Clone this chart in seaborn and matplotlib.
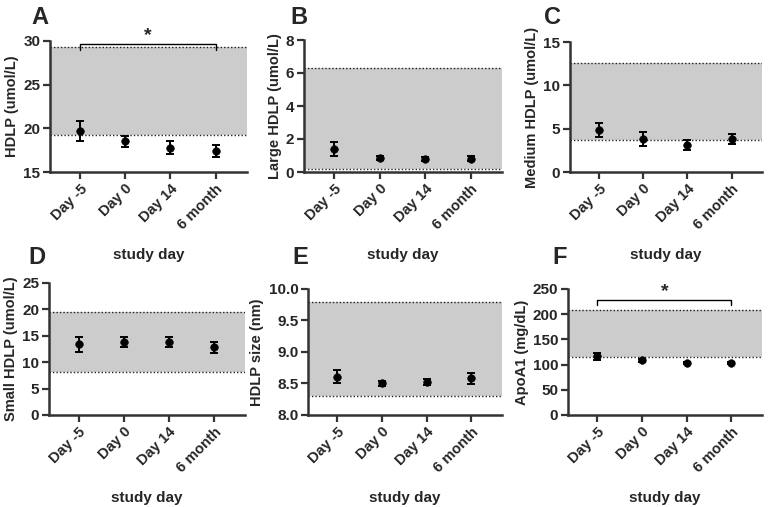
import numpy as np
import matplotlib
matplotlib.use("Agg")
import matplotlib.pyplot as plt
import seaborn as sns

days = ["Day -5", "Day 0", "Day 14", "6 month"]

# means and error bar half-widths
hdlp_mean = [19.7, 18.5, 17.8, 17.4]
hdlp_err = [1.1, 0.6, 0.7, 0.7]
large_mean = [1.4, 0.85, 0.8, 0.8]
large_err = [0.4, 0.15, 0.12, 0.15]
medium_mean = [4.8, 3.8, 3.1, 3.8]
medium_err = [0.8, 0.8, 0.6, 0.6]
small_mean = [13.4, 13.8, 13.8, 12.8]
small_err = [1.4, 1.0, 1.0, 1.0]
size_mean = [8.61, 8.50, 8.52, 8.58]
size_err = [0.10, 0.04, 0.05, 0.09]
apoa1_mean = [117, 109, 103, 103]
apoa1_err = [7, 3, 2, 2]

# reference ranges (shaded bands)
hdlp_band = (19.2, 29.3)
large_band = (0.2, 6.3)
medium_band = (3.7, 12.6)
small_band = (8.1, 19.6)
size_band = (8.3, 9.8)
apoa1_band = (115, 208)

panels = [
    ("A", "HDLP (umol/L)", hdlp_mean, hdlp_err, hdlp_band, (15, 30), [15, 20, 25, 30], "{:.0f}", (29.6, 29.0)),
    ("B", "Large HDLP (umol/L)", large_mean, large_err, large_band, (0, 8), [0, 2, 4, 6, 8], "{:.0f}", None),
    ("C", "Medium HDLP (umol/L)", medium_mean, medium_err, medium_band, (0, 15), [0, 5, 10, 15], "{:.0f}", None),
    ("D", "Small HDLP (umol/L)", small_mean, small_err, small_band, (0, 25), [0, 5, 10, 15, 20, 25], "{:.0f}", None),
    ("E", "HDLP size (nm)", size_mean, size_err, size_band, (8.0, 10.0), [8.0, 8.5, 9.0, 9.5, 10.0], "{:.1f}", None),
    ("F", "ApoA1 (mg/dL)", apoa1_mean, apoa1_err, apoa1_band, (0, 250), [0, 50, 100, 150, 200, 250], "{:.0f}", (228, 219)),
]

sns.set_style("ticks")
plt.rcParams["font.family"] = ["Liberation Sans", "DejaVu Sans"]
plt.rcParams["font.weight"] = "bold"

fig = plt.figure(figsize=(7.68, 5.07), dpi=100)

W, H = 768, 507
lefts = [[50, 304, 570], [49, 308, 568]]
rights = [[247, 502, 762], [245, 502, 762]]
tops = [[41, 40, 42], [283, 289, 289]]
bottoms = [172, 415]
letter_x = [[48, 308, 561], [46, 308, 567]]
letter_y = [24, 264]

spine_col = "#333333"
xpos = np.arange(len(days))

for i, (letter, ylabel, mean, err, band, ylim, yticks, fmt, bracket) in enumerate(panels):
    r, c = divmod(i, 3)
    l, rt = lefts[r][c], rights[r][c]
    t, b = tops[r][c], bottoms[r]
    ax = fig.add_axes([l / W, 1 - b / H, (rt - l) / W, (b - t) / H])

    ax.axhspan(band[0], band[1], color="#cccccc", zorder=0, lw=0)
    for yb in band:
        ax.axhline(yb, color="#222222", ls=(0, (1, 1.5)), lw=1.0, zorder=1)

    ax.errorbar(xpos, mean, yerr=err, fmt="none", ecolor="black",
                elinewidth=1.4, capsize=3.2, capthick=1.4, zorder=3)
    sns.scatterplot(x=xpos, y=mean, ax=ax, color="black", s=30,
                    marker="o", edgecolor="black", zorder=4, legend=False)

    ax.set_xlim(-0.66, 3.69)
    ax.set_ylim(*ylim)
    ax.set_yticks(yticks)
    ax.set_yticklabels([fmt.format(v) for v in yticks], fontsize=11, fontweight="bold")
    ax.set_xticks(xpos)
    ax.set_xticklabels(days, rotation=45, ha="right", rotation_mode="anchor",
                       fontsize=10.5, fontweight="bold")
    ax.set_ylabel(ylabel, fontsize=10.5, fontweight="bold", labelpad=3)
    ax.set_xlabel("study day", fontsize=11, fontweight="bold", labelpad=12)
    ax.tick_params(axis="both", direction="out", length=5, width=1.6, color=spine_col, pad=2)

    sns.despine(ax=ax)
    for s in ["left", "bottom"]:
        ax.spines[s].set_linewidth(1.8)
        ax.spines[s].set_color(spine_col)
        ax.spines[s].set_zorder(5)

    if bracket is not None:
        ytop, ylow = bracket
        ax.plot([0, 0, 3, 3], [ylow, ytop, ytop, ylow], color="black", lw=1.0,
                clip_on=False, zorder=6)
        ax.text(1.5, ytop, "*", ha="center", va="bottom", fontsize=14,
                fontweight="bold")

    fig.text(letter_x[r][c] / W, 1 - letter_y[r] / H, letter, fontsize=17,
             fontweight="bold", ha="right", va="baseline")

fig.savefig("out.png", dpi=100)
